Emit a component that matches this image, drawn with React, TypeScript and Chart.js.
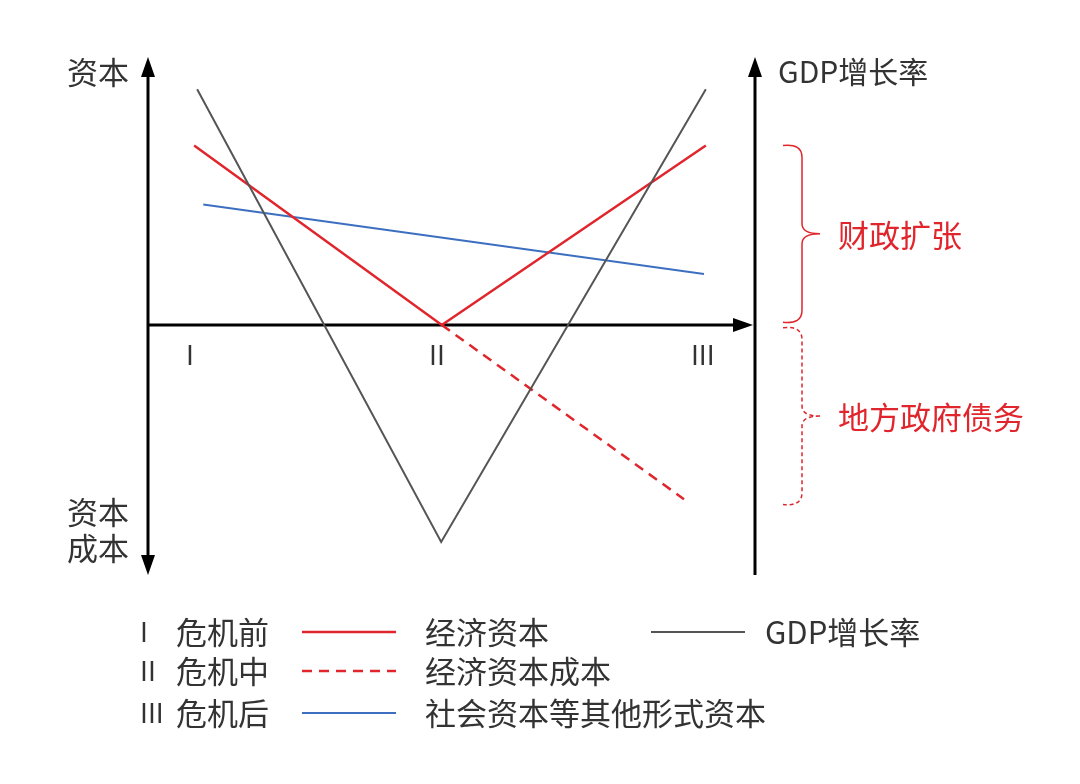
import React, { useEffect, useRef } from 'react';
import { Chart, registerables } from 'chart.js';

Chart.register(...registerables);

// x: 0 = left axis, 100 = right axis; y: 0 = horizontal axis
const gdpX = [8.1, 48.3, 91.9];
const gdpY = [8.8, -8.1, 8.8];
const capitalX = [7.6, 48.4, 91.9];
const capitalY = [6.7, 0, 6.7];
const costX = [48.4, 88.3];
const costY = [0, -6.5];
const socialX = [9.1, 91.6];
const socialY = [4.5, 1.9];

const phaseLabels = ['I', 'II', 'III'];
const phaseX = [6.9, 47.6, 91.4];
const phaseNames = ['危机前', '危机中', '危机后'];

const seriesNames = ['GDP增长率', '经济资本', '经济资本成本', '社会资本等其他形式资本'];
const bracketLabels = ['财政扩张', '地方政府债务'];
const bracketTop = [6.7, -0.1];
const bracketBottom = [0.1, -6.7];

const FONT = '"Noto Sans CJK SC", "Noto Sans", sans-serif';
const TEXT = '#333333';
const RED = '#e0262c';

const pts = (xs: number[], ys: number[]) => xs.map((x, i) => ({ x, y: ys[i] }));

const arrow = (ctx: CanvasRenderingContext2D, x: number, y: number, dir: 'up' | 'down' | 'right') => {
  const w = 7;
  const l = 20;
  ctx.beginPath();
  if (dir === 'up') {
    ctx.moveTo(x, y);
    ctx.lineTo(x - w, y + l);
    ctx.lineTo(x + w, y + l);
  } else if (dir === 'down') {
    ctx.moveTo(x, y);
    ctx.lineTo(x - w, y - l);
    ctx.lineTo(x + w, y - l);
  } else {
    ctx.moveTo(x, y);
    ctx.lineTo(x - l, y - w);
    ctx.lineTo(x - l, y + w);
  }
  ctx.closePath();
  ctx.fill();
};

const brace = (ctx: CanvasRenderingContext2D, x: number, top: number, bottom: number) => {
  const mid = (top + bottom) / 2;
  const xv = x + 19;
  const xt = x + 37;
  ctx.beginPath();
  ctx.moveTo(x, top);
  ctx.quadraticCurveTo(xv, top - 2, xv, top + 12);
  ctx.lineTo(xv, mid - 10);
  ctx.quadraticCurveTo(xv, mid, xt, mid);
  ctx.moveTo(xt, mid);
  ctx.quadraticCurveTo(xv, mid, xv, mid + 10);
  ctx.lineTo(xv, bottom - 12);
  ctx.quadraticCurveTo(xv, bottom + 2, x, bottom);
  ctx.stroke();
};

const diagramPlugin = {
  id: 'diagram',
  beforeDatasetsDraw(chart: any) {
    const { ctx, scales } = chart;
    const xs = scales.x;
    const ys = scales.y;
    const left = xs.getPixelForValue(0);
    const right = xs.getPixelForValue(100);
    const top = ys.getPixelForValue(ys.max);
    const bottom = ys.getPixelForValue(ys.min);
    const zero = ys.getPixelForValue(0);
    ctx.save();
    ctx.strokeStyle = '#000';
    ctx.fillStyle = '#000';
    ctx.lineWidth = 3;
    ctx.beginPath();
    ctx.moveTo(left, top + 15);
    ctx.lineTo(left, bottom - 15);
    ctx.moveTo(left, zero);
    ctx.lineTo(right - 17, zero);
    ctx.moveTo(right, top + 15);
    ctx.lineTo(right, bottom);
    ctx.stroke();
    arrow(ctx, left, top, 'up');
    arrow(ctx, left, bottom, 'down');
    arrow(ctx, right - 2, zero, 'right');
    arrow(ctx, right, top, 'up');
    ctx.restore();
  },
  afterDatasetsDraw(chart: any) {
    const { ctx, scales } = chart;
    const xs = scales.x;
    const ys = scales.y;
    const left = xs.getPixelForValue(0);
    const right = xs.getPixelForValue(100);
    const top = ys.getPixelForValue(ys.max);
    const bottom = ys.getPixelForValue(ys.min);
    const zero = ys.getPixelForValue(0);
    ctx.save();
    ctx.textBaseline = 'middle';

    // axis titles
    ctx.fillStyle = TEXT;
    ctx.font = `31px ${FONT}`;
    ctx.textAlign = 'right';
    ctx.fillText('资本', left - 19, top + 15);
    ctx.fillText('资本', left - 19, bottom - 63);
    ctx.fillText('成本', left - 19, bottom - 27);
    ctx.textAlign = 'left';
    ctx.font = `30px ${FONT}`;
    ctx.fillText(seriesNames[0], right + 23, top + 15);

    // phase marks
    ctx.font = `27px ${FONT}`;
    ctx.textAlign = 'center';
    phaseLabels.forEach((p, i) => ctx.fillText(p, xs.getPixelForValue(phaseX[i]), zero + 30));

    // braces
    ctx.strokeStyle = RED;
    ctx.fillStyle = RED;
    ctx.lineWidth = 1.5;
    ctx.font = `31px ${FONT}`;
    ctx.textAlign = 'left';
    bracketLabels.forEach((label, i) => {
      const t = ys.getPixelForValue(bracketTop[i]);
      const b = ys.getPixelForValue(bracketBottom[i]);
      ctx.setLineDash(i === 1 ? [4, 3] : []);
      brace(ctx, right + 28, t, b);
      ctx.fillText(label, right + 83, (t + b) / 2 + 1);
    });
    ctx.setLineDash([]);

    // legend
    const rowY = [632, 671, 713];
    ctx.font = `31px ${FONT}`;
    ctx.fillStyle = TEXT;
    ctx.textAlign = 'left';
    phaseLabels.forEach((p, i) => {
      ctx.save();
      ctx.font = `27px ${FONT}`;
      ctx.fillText(p, 140, rowY[i]);
      ctx.restore();
      ctx.fillText(phaseNames[i], 176, rowY[i]);
    });
    const items = [
      { ds: 1, x: 302, y: rowY[0] },
      { ds: 2, x: 302, y: rowY[1] },
      { ds: 3, x: 302, y: rowY[2] },
      { ds: 0, x: 651, y: rowY[0] },
    ];
    items.forEach(({ ds, x, y }) => {
      const d = chart.data.datasets[ds];
      ctx.strokeStyle = d.borderColor;
      ctx.lineWidth = d.borderWidth;
      ctx.setLineDash(d.borderDash || []);
      ctx.beginPath();
      ctx.moveTo(x, y);
      ctx.lineTo(x + 94, y);
      ctx.stroke();
      ctx.setLineDash([]);
      ctx.fillStyle = TEXT;
      ctx.fillText(d.label, x + (ds === 0 ? 114 : 123), y);
    });
    ctx.restore();
  },
};

const App: React.FC = () => {
  const canvasRef = useRef<HTMLCanvasElement>(null);

  useEffect(() => {
    if (!canvasRef.current) return;
    const line = { showLine: true, pointRadius: 0, fill: false, tension: 0, clip: false as any };
    const chart = new Chart(canvasRef.current, {
      type: 'scatter',
      data: {
        datasets: [
          { ...line, label: seriesNames[0], data: pts(gdpX, gdpY), borderColor: '#555555', borderWidth: 2 },
          { ...line, label: seriesNames[1], data: pts(capitalX, capitalY), borderColor: RED, borderWidth: 2.5 },
          { ...line, label: seriesNames[2], data: pts(costX, costY), borderColor: RED, borderWidth: 2.5, borderDash: [10, 7] },
          { ...line, label: seriesNames[3], data: pts(socialX, socialY), borderColor: '#3d6fc0', borderWidth: 2 },
        ],
      },
      options: {
        animation: false,
        responsive: true,
        maintainAspectRatio: false,
        layout: { padding: { left: 148, right: 325, top: 57, bottom: 209 } },
        scales: {
          x: { type: 'linear', min: 0, max: 100, display: false },
          y: { type: 'linear', min: -9.33, max: 10, display: false },
        },
        plugins: { legend: { display: false }, tooltip: { enabled: false } },
      },
      plugins: [diagramPlugin],
    });
    return () => chart.destroy();
  }, []);

  return (
    <div style={{ position: 'absolute', left: 0, top: 0, width: 1080, height: 784, background: '#fff' }}>
      <canvas ref={canvasRef} />
    </div>
  );
};

export default App;
